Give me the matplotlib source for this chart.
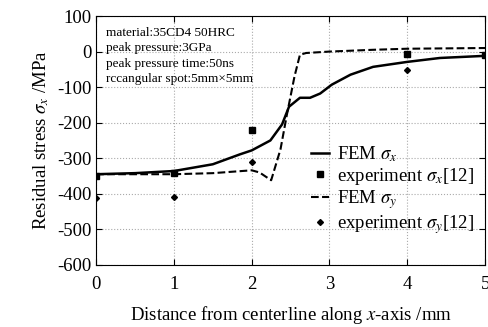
import matplotlib.pyplot as plt

plt.rcParams['font.family'] = ['Liberation Serif', 'DejaVu Serif']
plt.rcParams['mathtext.fontset'] = 'stix'
plt.rcParams['axes.unicode_minus'] = False

# FEM sigma_x (solid)
fem_x_pos = [0, 0.5, 1.0, 1.5, 1.85, 2.0, 2.24, 2.39, 2.48, 2.62, 2.75, 2.88, 3.03, 3.27, 3.56, 4.0, 4.42, 5.0]
fem_x_val = [-345, -342, -336, -317, -289, -278, -250, -205, -155, -130, -130, -118, -93, -65, -43, -29, -18, -12]

# FEM sigma_y (dashed)
fem_y_pos = [0, 0.5, 1.0, 1.5, 2.0, 2.1, 2.25, 2.37, 2.45, 2.55, 2.62, 2.7, 3.0, 3.56, 4.0, 5.0]
fem_y_val = [-345, -345, -345, -342, -334, -340, -362, -275, -180, -70, -9, -4, 0, 5, 8, 10]

# experiments
exp_x_pos = [0, 1, 2, 4, 5]
exp_x_val = [-350, -342, -222, -7, -9]
exp_y_pos = [0, 1, 2, 4]
exp_y_val = [-412, -409, -312, -51]

fig = plt.figure(figsize=(4.88, 3.27), dpi=100)
ax = fig.add_axes([0.197, 0.19, 0.797, 0.761])

ax.grid(True, linestyle=':', color='#aaaaaa', linewidth=0.8)
ax.set_axisbelow(True)

ax.plot(fem_x_pos, fem_x_val, '-', color='black', lw=1.8, label=r'FEM $\sigma_x$')
ax.plot(exp_x_pos, exp_x_val, 's', color='black', ms=4, ls='none', label=r'experiment $\sigma_x$[12]')
ax.plot(fem_y_pos, fem_y_val, '--', color='black', lw=1.5, label=r'FEM $\sigma_y$')
ax.plot(exp_y_pos, exp_y_val, 'D', color='black', ms=3, ls='none', label=r'experiment $\sigma_y$[12]')

ax.set_xlim(0, 5)
ax.set_ylim(-600, 100)
ax.set_xticks([0, 1, 2, 3, 4, 5])
ax.set_yticks(range(-600, 101, 100))
ax.tick_params(direction='in', top=True, right=True, labelsize=13.5, length=4)
ax.tick_params(axis='x', pad=8)

ax.set_xlabel(r'Distance from centerline along $x$-axis /mm', fontsize=13.5, labelpad=8)
ax.set_ylabel(r'Residual stress $\sigma_x$ /MPa', fontsize=13.5, labelpad=4)

ax.text(0.025, 0.955,
        'material:35CD4 50HRC\npeak pressure:3GPa\npeak pressure time:50ns\nrccangular spot:5mm\u00d75mm',
        transform=ax.transAxes, fontsize=9.5, va='top', ha='left', linespacing=1.35)

leg = ax.legend(loc='lower right', bbox_to_anchor=(1.0, 0.07), frameon=False, fontsize=13.5,
                handlelength=1.0, handletextpad=0.4, labelspacing=0.1, borderaxespad=0.2)

fig.savefig('out.png', dpi=100)
